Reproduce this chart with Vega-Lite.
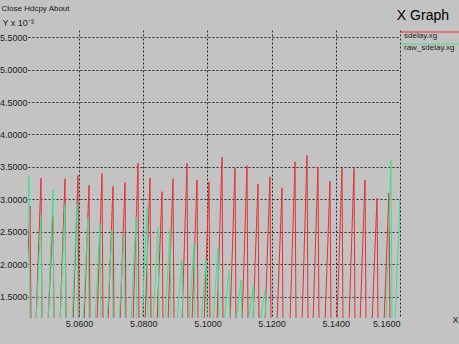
{
  "$schema": "https://vega.github.io/schema/vega-lite/v6.json",
  "width": 372,
  "height": 288,
  "autosize": {"type": "none"},
  "padding": {"left": 28, "top": 30, "right": 59, "bottom": 26},
  "background": "#c3c3c3",
  "title": {"text": "X Graph", "anchor": "end", "frame": "group", "fontSize": 14, "font": "Liberation Sans", "fontWeight": "normal", "color": "#000000", "dx": 49, "dy": 39, "offset": 9, "baseline": "alphabetic"},
  "config": {
    "view": {"stroke": null},
    "axis": {"labelFont": "Liberation Sans", "titleFont": "Liberation Sans", "labelColor": "#202020", "titleColor": "#202020", "labelFontSize": 9, "titleFontWeight": "normal"}
  },
  "data": {"values": [
    {"series": "sdelay.xg", "time": 5.04318, "delay": 1.1},
    {"series": "sdelay.xg", "time": 5.04474, "delay": 2.9},
    {"series": "sdelay.xg", "time": 5.04505, "delay": 1.1},
    {"series": "sdelay.xg", "time": 5.0466, "delay": 1.1},
    {"series": "sdelay.xg", "time": 5.04816, "delay": 3.33},
    {"series": "sdelay.xg", "time": 5.04847, "delay": 1.1},
    {"series": "sdelay.xg", "time": 5.05034, "delay": 1.1},
    {"series": "sdelay.xg", "time": 5.0519, "delay": 2.75},
    {"series": "sdelay.xg", "time": 5.05221, "delay": 1.1},
    {"series": "sdelay.xg", "time": 5.05408, "delay": 1.1},
    {"series": "sdelay.xg", "time": 5.05564, "delay": 3.32},
    {"series": "sdelay.xg", "time": 5.05595, "delay": 1.1},
    {"series": "sdelay.xg", "time": 5.05813, "delay": 1.1},
    {"series": "sdelay.xg", "time": 5.05969, "delay": 3.37},
    {"series": "sdelay.xg", "time": 5.06, "delay": 1.1},
    {"series": "sdelay.xg", "time": 5.06156, "delay": 1.1},
    {"series": "sdelay.xg", "time": 5.06312, "delay": 3.22},
    {"series": "sdelay.xg", "time": 5.06343, "delay": 1.1},
    {"series": "sdelay.xg", "time": 5.06561, "delay": 1.1},
    {"series": "sdelay.xg", "time": 5.06717, "delay": 3.4},
    {"series": "sdelay.xg", "time": 5.06748, "delay": 1.1},
    {"series": "sdelay.xg", "time": 5.06903, "delay": 1.1},
    {"series": "sdelay.xg", "time": 5.07059, "delay": 3.2},
    {"series": "sdelay.xg", "time": 5.0709, "delay": 1.1},
    {"series": "sdelay.xg", "time": 5.07277, "delay": 1.1},
    {"series": "sdelay.xg", "time": 5.07433, "delay": 3.26},
    {"series": "sdelay.xg", "time": 5.07464, "delay": 1.1},
    {"series": "sdelay.xg", "time": 5.07682, "delay": 1.1},
    {"series": "sdelay.xg", "time": 5.07838, "delay": 3.56},
    {"series": "sdelay.xg", "time": 5.07869, "delay": 1.1},
    {"series": "sdelay.xg", "time": 5.08056, "delay": 1.1},
    {"series": "sdelay.xg", "time": 5.08212, "delay": 3.33},
    {"series": "sdelay.xg", "time": 5.08243, "delay": 1.1},
    {"series": "sdelay.xg", "time": 5.0843, "delay": 1.1},
    {"series": "sdelay.xg", "time": 5.08586, "delay": 3.12},
    {"series": "sdelay.xg", "time": 5.08617, "delay": 1.1},
    {"series": "sdelay.xg", "time": 5.08772, "delay": 1.1},
    {"series": "sdelay.xg", "time": 5.08928, "delay": 3.32},
    {"series": "sdelay.xg", "time": 5.08959, "delay": 1.1},
    {"series": "sdelay.xg", "time": 5.09208, "delay": 1.1},
    {"series": "sdelay.xg", "time": 5.09364, "delay": 3.56},
    {"series": "sdelay.xg", "time": 5.09395, "delay": 1.1},
    {"series": "sdelay.xg", "time": 5.0952, "delay": 1.1},
    {"series": "sdelay.xg", "time": 5.09676, "delay": 3.3},
    {"series": "sdelay.xg", "time": 5.09707, "delay": 1.1},
    {"series": "sdelay.xg", "time": 5.09894, "delay": 1.1},
    {"series": "sdelay.xg", "time": 5.1005, "delay": 3.27},
    {"series": "sdelay.xg", "time": 5.10081, "delay": 1.1},
    {"series": "sdelay.xg", "time": 5.10299, "delay": 1.1},
    {"series": "sdelay.xg", "time": 5.10455, "delay": 3.65},
    {"series": "sdelay.xg", "time": 5.10486, "delay": 1.1},
    {"series": "sdelay.xg", "time": 5.10704, "delay": 1.1},
    {"series": "sdelay.xg", "time": 5.1086, "delay": 3.48},
    {"series": "sdelay.xg", "time": 5.10891, "delay": 1.1},
    {"series": "sdelay.xg", "time": 5.11078, "delay": 1.1},
    {"series": "sdelay.xg", "time": 5.11234, "delay": 3.52},
    {"series": "sdelay.xg", "time": 5.11265, "delay": 1.1},
    {"series": "sdelay.xg", "time": 5.1142, "delay": 1.1},
    {"series": "sdelay.xg", "time": 5.11576, "delay": 3.24},
    {"series": "sdelay.xg", "time": 5.11607, "delay": 1.1},
    {"series": "sdelay.xg", "time": 5.11794, "delay": 1.1},
    {"series": "sdelay.xg", "time": 5.1195, "delay": 3.35},
    {"series": "sdelay.xg", "time": 5.11981, "delay": 1.1},
    {"series": "sdelay.xg", "time": 5.12168, "delay": 1.1},
    {"series": "sdelay.xg", "time": 5.12324, "delay": 3.18},
    {"series": "sdelay.xg", "time": 5.12355, "delay": 1.1},
    {"series": "sdelay.xg", "time": 5.12573, "delay": 1.1},
    {"series": "sdelay.xg", "time": 5.12729, "delay": 3.58},
    {"series": "sdelay.xg", "time": 5.1276, "delay": 1.1},
    {"series": "sdelay.xg", "time": 5.12947, "delay": 1.1},
    {"series": "sdelay.xg", "time": 5.13103, "delay": 3.68},
    {"series": "sdelay.xg", "time": 5.13134, "delay": 1.1},
    {"series": "sdelay.xg", "time": 5.13289, "delay": 1.1},
    {"series": "sdelay.xg", "time": 5.13445, "delay": 3.5},
    {"series": "sdelay.xg", "time": 5.13476, "delay": 1.1},
    {"series": "sdelay.xg", "time": 5.13663, "delay": 1.1},
    {"series": "sdelay.xg", "time": 5.13819, "delay": 3.28},
    {"series": "sdelay.xg", "time": 5.1385, "delay": 1.1},
    {"series": "sdelay.xg", "time": 5.14037, "delay": 1.1},
    {"series": "sdelay.xg", "time": 5.14193, "delay": 3.48},
    {"series": "sdelay.xg", "time": 5.14224, "delay": 1.1},
    {"series": "sdelay.xg", "time": 5.14411, "delay": 1.1},
    {"series": "sdelay.xg", "time": 5.14567, "delay": 3.48},
    {"series": "sdelay.xg", "time": 5.14598, "delay": 1.1},
    {"series": "sdelay.xg", "time": 5.14754, "delay": 1.1},
    {"series": "sdelay.xg", "time": 5.1491, "delay": 3.3},
    {"series": "sdelay.xg", "time": 5.14941, "delay": 1.1},
    {"series": "sdelay.xg", "time": 5.15128, "delay": 1.1},
    {"series": "sdelay.xg", "time": 5.15284, "delay": 3.02},
    {"series": "sdelay.xg", "time": 5.15315, "delay": 1.1},
    {"series": "sdelay.xg", "time": 5.15501, "delay": 1.1},
    {"series": "sdelay.xg", "time": 5.15657, "delay": 3.1},
    {"series": "sdelay.xg", "time": 5.15688, "delay": 1.1},
    {"series": "raw_sdelay.xg", "time": 5.04286, "delay": 1.1},
    {"series": "raw_sdelay.xg", "time": 5.04442, "delay": 3.37},
    {"series": "raw_sdelay.xg", "time": 5.04473, "delay": 1.1},
    {"series": "raw_sdelay.xg", "time": 5.0466, "delay": 1.1},
    {"series": "raw_sdelay.xg", "time": 5.04816, "delay": 2.75},
    {"series": "raw_sdelay.xg", "time": 5.04847, "delay": 1.1},
    {"series": "raw_sdelay.xg", "time": 5.05034, "delay": 1.1},
    {"series": "raw_sdelay.xg", "time": 5.0519, "delay": 3.15},
    {"series": "raw_sdelay.xg", "time": 5.05221, "delay": 1.1},
    {"series": "raw_sdelay.xg", "time": 5.05408, "delay": 1.1},
    {"series": "raw_sdelay.xg", "time": 5.05564, "delay": 2.92},
    {"series": "raw_sdelay.xg", "time": 5.05595, "delay": 1.1},
    {"series": "raw_sdelay.xg", "time": 5.05782, "delay": 1.1},
    {"series": "raw_sdelay.xg", "time": 5.05938, "delay": 2.95},
    {"series": "raw_sdelay.xg", "time": 5.05969, "delay": 1.1},
    {"series": "raw_sdelay.xg", "time": 5.06124, "delay": 1.1},
    {"series": "raw_sdelay.xg", "time": 5.0628, "delay": 2.72},
    {"series": "raw_sdelay.xg", "time": 5.06311, "delay": 1.1},
    {"series": "raw_sdelay.xg", "time": 5.06498, "delay": 1.1},
    {"series": "raw_sdelay.xg", "time": 5.06654, "delay": 2.62},
    {"series": "raw_sdelay.xg", "time": 5.06685, "delay": 1.1},
    {"series": "raw_sdelay.xg", "time": 5.06872, "delay": 1.1},
    {"series": "raw_sdelay.xg", "time": 5.07028, "delay": 2.53},
    {"series": "raw_sdelay.xg", "time": 5.07059, "delay": 1.1},
    {"series": "raw_sdelay.xg", "time": 5.07246, "delay": 1.1},
    {"series": "raw_sdelay.xg", "time": 5.07402, "delay": 2.48},
    {"series": "raw_sdelay.xg", "time": 5.07433, "delay": 1.1},
    {"series": "raw_sdelay.xg", "time": 5.0762, "delay": 1.1},
    {"series": "raw_sdelay.xg", "time": 5.07776, "delay": 2.73},
    {"series": "raw_sdelay.xg", "time": 5.07807, "delay": 1.1},
    {"series": "raw_sdelay.xg", "time": 5.07962, "delay": 1.1},
    {"series": "raw_sdelay.xg", "time": 5.08118, "delay": 2.88},
    {"series": "raw_sdelay.xg", "time": 5.08149, "delay": 1.1},
    {"series": "raw_sdelay.xg", "time": 5.08305, "delay": 1.1},
    {"series": "raw_sdelay.xg", "time": 5.08461, "delay": 2.58},
    {"series": "raw_sdelay.xg", "time": 5.08492, "delay": 1.1},
    {"series": "raw_sdelay.xg", "time": 5.08679, "delay": 1.1},
    {"series": "raw_sdelay.xg", "time": 5.08835, "delay": 2.55},
    {"series": "raw_sdelay.xg", "time": 5.08866, "delay": 1.1},
    {"series": "raw_sdelay.xg", "time": 5.09053, "delay": 1.1},
    {"series": "raw_sdelay.xg", "time": 5.09209, "delay": 2.07},
    {"series": "raw_sdelay.xg", "time": 5.0924, "delay": 1.1},
    {"series": "raw_sdelay.xg", "time": 5.09427, "delay": 1.1},
    {"series": "raw_sdelay.xg", "time": 5.09583, "delay": 2.33},
    {"series": "raw_sdelay.xg", "time": 5.09614, "delay": 1.1},
    {"series": "raw_sdelay.xg", "time": 5.098, "delay": 1.1},
    {"series": "raw_sdelay.xg", "time": 5.09956, "delay": 2.07},
    {"series": "raw_sdelay.xg", "time": 5.09987, "delay": 1.1},
    {"series": "raw_sdelay.xg", "time": 5.10174, "delay": 1.1},
    {"series": "raw_sdelay.xg", "time": 5.1033, "delay": 2.25},
    {"series": "raw_sdelay.xg", "time": 5.10361, "delay": 1.1},
    {"series": "raw_sdelay.xg", "time": 5.10517, "delay": 1.1},
    {"series": "raw_sdelay.xg", "time": 5.10673, "delay": 1.92},
    {"series": "raw_sdelay.xg", "time": 5.10704, "delay": 1.1},
    {"series": "raw_sdelay.xg", "time": 5.10891, "delay": 1.1},
    {"series": "raw_sdelay.xg", "time": 5.11047, "delay": 1.76},
    {"series": "raw_sdelay.xg", "time": 5.11078, "delay": 1.1},
    {"series": "raw_sdelay.xg", "time": 5.11265, "delay": 1.1},
    {"series": "raw_sdelay.xg", "time": 5.11421, "delay": 1.65},
    {"series": "raw_sdelay.xg", "time": 5.11452, "delay": 1.1},
    {"series": "raw_sdelay.xg", "time": 5.11638, "delay": 1.1},
    {"series": "raw_sdelay.xg", "time": 5.11794, "delay": 1.6},
    {"series": "raw_sdelay.xg", "time": 5.11825, "delay": 1.1},
    {"series": "raw_sdelay.xg", "time": 5.15564, "delay": 1.1},
    {"series": "raw_sdelay.xg", "time": 5.1572, "delay": 3.61},
    {"series": "raw_sdelay.xg", "time": 5.15751, "delay": 1.1},
    {"series": "raw_sdelay.xg", "time": 5.15844, "delay": 1.1},
    {"series": "raw_sdelay.xg", "time": 5.16, "delay": 3.0},
    {"series": "raw_sdelay.xg", "time": 5.16031, "delay": 1.1}
  ]},
  "resolve": {"scale": {"x": "shared"}, "axis": {"x": "independent"}},
  "layer": [
    {
      "mark": {"type": "line", "clip": true, "strokeWidth": 1},
      "encoding": {
        "x": {"field": "time", "type": "quantitative",
          "scale": {"domain": [5.04411, 5.16], "nice": false, "zero": false},
          "axis": {"orient": "bottom", "values": [5.06, 5.08, 5.1, 5.12, 5.14, 5.16], "format": ".4f", "grid": true, "gridDash": [2, 2], "gridColor": "#2a2a2a", "gridOpacity": 1, "domain": false, "ticks": false, "labelPadding": 1, "title": "X", "titleX": 424, "titleY": 1, "titleAlign": "left", "titleBaseline": "middle", "titleFontSize": 9}},
        "y": {"field": "delay", "type": "quantitative",
          "scale": {"domain": [1.1769, 5.6077], "nice": false, "zero": false},
          "axis": {"values": [1.5, 2, 2.5, 3, 3.5, 4, 4.5, 5, 5.5], "format": ".4f", "grid": true, "gridDash": [2, 2], "gridColor": "#2a2a2a", "gridOpacity": 1, "domain": false, "ticks": false, "labelPadding": 1, "title": "Y x 10⁻³", "titleAngle": 0, "titleX": -26, "titleY": -8, "titleAlign": "left", "titleBaseline": "middle", "titleFontSize": 9}},
        "color": {"field": "series", "type": "nominal",
          "scale": {"domain": ["sdelay.xg", "raw_sdelay.xg"], "range": ["#e83030", "#40e090"]},
          "legend": {"orient": "none", "legendX": 365, "legendY": 0, "title": null, "padding": 0, "symbolType": "M0.4,-0.7L12.2,-0.7", "symbolSize": 100, "symbolStrokeWidth": 1, "labelFontSize": 8, "labelFont": "Liberation Sans", "labelColor": "#222222", "labelOffset": 0, "rowPadding": 2}}
      }
    },
    {
      "transform": [{"filter": "datum.delay > 100"}],
      "mark": {"type": "point", "opacity": 0},
      "encoding": {
        "x": {"field": "time", "type": "quantitative",
          "axis": {"orient": "top", "labels": false, "ticks": false, "domain": false, "grid": false, "title": "Close   Hdcpy   About", "titleX": -27, "titleY": -22, "titleAlign": "left", "titleBaseline": "middle", "titleFontSize": 8}}
      }
    }
  ]
}
